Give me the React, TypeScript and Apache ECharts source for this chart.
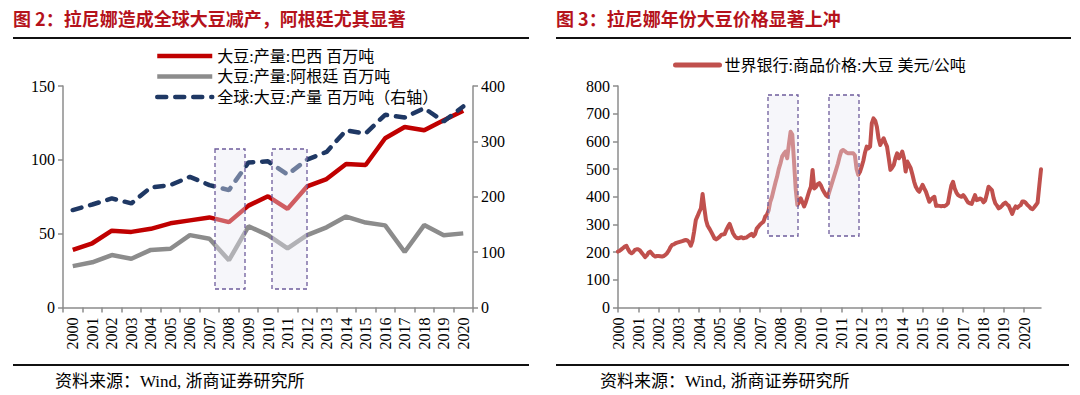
import React, { useEffect, useRef } from "react";
import * as echarts from "echarts";

// ---------- Left chart: production (million tonnes) ----------
const years = ["2000","2001","2002","2003","2004","2005","2006","2007","2008","2009","2010","2011","2012","2013","2014","2015","2016","2017","2018","2019","2020"];
const brazil = [39, 43.5, 52, 51.2, 53.3, 57, 59, 61, 57.8, 69, 75.3, 66.8, 82, 87, 97.2, 96.5, 114.6, 122.2, 120, 126.8, 133.3];
const argentina = [28, 30.6, 35.5, 33, 39, 39.8, 49, 46.5, 32, 55, 49, 40, 49, 54.3, 61.6, 57.5, 55.6, 37.6, 55.8, 49, 50.2];
const world = [176, 186, 197, 188, 217, 221, 236, 221, 212, 262, 264, 240, 267, 281, 320, 314, 348, 343, 360, 336, 363];

// ---------- Right chart: World Bank soybean price (USD/t), monthly ----------
const p2000 = [202, 205, 210, 215, 220, 223, 210, 200, 196, 200, 208, 210];
const p2001 = [210, 206, 198, 190, 182, 188, 198, 202, 195, 188, 184, 186];
const p2002 = [186, 185, 184, 186, 190, 196, 205, 218, 226, 228, 232, 234];
const p2003 = [236, 238, 240, 242, 244, 242, 236, 223, 240, 275, 316, 330];
const p2004 = [345, 358, 410, 360, 316, 295, 285, 274, 262, 250, 246, 250];
const p2005 = [255, 262, 264, 265, 280, 292, 302, 285, 268, 258, 252, 250];
const p2006 = [252, 254, 250, 252, 253, 258, 262, 266, 258, 265, 285, 292];
const p2007 = [300, 305, 310, 328, 335, 350, 382, 400, 425, 450, 472, 500];
const p2008 = [520, 545, 555, 563, 539, 590, 635, 625, 530, 430, 370, 380];
const p2009 = [394, 380, 365, 380, 400, 420, 436, 497, 430, 435, 445, 449];
const p2010 = [440, 425, 415, 405, 400, 420, 440, 460, 480, 500, 520, 545];
const p2011 = [565, 569, 565, 560, 557, 557, 557, 557, 550, 500, 479, 490];
const p2012 = [509, 530, 560, 581, 575, 581, 665, 683, 675, 653, 610, 587];
const p2013 = [600, 611, 595, 581, 540, 497, 505, 515, 540, 557, 539, 548];
const p2014 = [563, 540, 491, 527, 515, 503, 480, 455, 436, 425, 418, 430];
const p2015 = [443, 430, 418, 400, 382, 390, 396, 400, 367, 368, 367, 366];
const p2016 = [367, 366, 370, 376, 410, 440, 454, 430, 415, 406, 402, 400];
const p2017 = [406, 398, 388, 379, 376, 374, 390, 406, 388, 390, 394, 390];
const p2018 = [380, 386, 410, 436, 430, 424, 395, 376, 368, 358, 362, 368];
const p2019 = [375, 379, 372, 367, 352, 338, 355, 365, 360, 366, 370, 383];
const p2020 = [383, 378, 370, 365, 358, 355, 362, 370, 379, 440, 499];
const priceByYear = [p2000, p2001, p2002, p2003, p2004, p2005, p2006, p2007, p2008, p2009, p2010, p2011, p2012, p2013, p2014, p2015, p2016, p2017, p2018, p2019, p2020];

const leftTitle = "图 2：拉尼娜造成全球大豆减产，阿根廷尤其显著";
const rightTitle = "图 3：拉尼娜年份大豆价格显著上冲";
const sourceText = "资料来源：Wind, 浙商证券研究所";
const nameBrazil = "大豆:产量:巴西 百万吨";
const nameArg = "大豆:产量:阿根廷 百万吨";
const nameWorld = "全球:大豆:产量 百万吨（右轴）";
const namePrice = "世界银行:商品价格:大豆 美元/公吨";

const SERIF = '"Liberation Serif", "Noto Sans CJK SC", serif';
const CJK = '"Noto Sans CJK SC", sans-serif';

export default function App() {
  const ref = useRef<HTMLDivElement>(null);
  useEffect(() => {
    const chart = echarts.init(ref.current!, null, { renderer: "svg" });
    const months: string[] = [];
    const prices: number[] = [];
    priceByYear.forEach((arr, yi) => {
      arr.forEach((v, mi) => {
        months.push(years[yi] + "-" + String(mi + 1).padStart(2, "0"));
        prices.push(v);
      });
    });

    const axisLine = { show: true, lineStyle: { color: "#8c8c8c", width: 1.5 } };
    const axisTick = { show: true, length: 5, lineStyle: { color: "#8c8c8c", width: 1.5 } };
    const yLabel = { fontSize: 16, color: "#000", fontFamily: SERIF, margin: 8 };

    const boxStyle = {
      fill: "rgba(232,232,242,0.4)",
      stroke: "#6e5c9c",
      lineWidth: 1.3,
      lineDash: [4, 3],
    };
    const box = (x: number, y: number, w: number, h: number) => ({
      type: "rect",
      z: 100,
      shape: { x, y, width: w, height: h },
      style: boxStyle,
    });
    const rule = (x1: number, x2: number, y: number) => ({
      type: "line",
      z: 50,
      shape: { x1, y1: y, x2, y2: y },
      style: { stroke: "#111", lineWidth: 2 },
    });
    const text = (x: number, y: number, t: string, s: any) => ({
      type: "text",
      z: 50,
      x,
      y,
      style: { text: t, verticalAlign: "middle", ...s },
    });

    const option: any = {
      animation: false,
      backgroundColor: "#fff",
      grid: [
        { left: 63, right: 607, top: 86, bottom: 87.5 },
        { left: 618, right: 39, top: 86, bottom: 87.5 },
      ],
      legend: [
        {
          orient: "vertical",
          left: 155,
          top: 48,
          padding: 0,
          itemWidth: 55,
          itemHeight: 14,
          itemGap: 4.5,
          itemStyle: { opacity: 0 },
          lineStyle: { width: 4.5 },
          textStyle: { fontSize: 16, color: "#000", fontFamily: SERIF },
          data: [nameBrazil, nameArg, nameWorld],
        },
        {
          orient: "horizontal",
          left: 673,
          top: 57,
          padding: 0,
          itemWidth: 44,
          itemHeight: 14,
          itemStyle: { opacity: 0 },
          lineStyle: { width: 5, cap: "round" },
          textStyle: { fontSize: 16, color: "#000", fontFamily: SERIF },
          data: [namePrice],
        },
      ],
      xAxis: [
        {
          type: "category",
          gridIndex: 0,
          data: years,
          axisLine,
          axisTick,
          axisLabel: { rotate: 90, interval: 0, fontSize: 16, color: "#000", fontFamily: SERIF, margin: 10 },
        },
        {
          type: "category",
          gridIndex: 1,
          data: months,
          boundaryGap: false,
          axisLine,
          axisTick: { ...axisTick, interval: (i: number) => i % 12 === 0 },
          axisLabel: {
            rotate: 90,
            interval: (i: number) => i % 12 === 0,
            fontSize: 16,
            color: "#000",
            fontFamily: SERIF,
            margin: 10,
            formatter: (v: string) => v.slice(0, 4),
          },
        },
      ],
      yAxis: [
        { type: "value", gridIndex: 0, position: "left", min: 0, max: 150, interval: 50, axisLine, axisTick, axisLabel: yLabel, splitLine: { show: false } },
        { type: "value", gridIndex: 0, position: "right", min: 0, max: 400, interval: 100, axisLine, axisTick, axisLabel: yLabel, splitLine: { show: false } },
        { type: "value", gridIndex: 1, position: "left", min: 0, max: 800, interval: 100, axisLine, axisTick, axisLabel: yLabel, splitLine: { show: false } },
      ],
      series: [
        {
          name: nameBrazil, type: "line", xAxisIndex: 0, yAxisIndex: 0, data: brazil, symbol: "none",
          lineStyle: { color: "#c00000", width: 4.5 }, itemStyle: { color: "#c00000" },
        },
        {
          name: nameArg, type: "line", xAxisIndex: 0, yAxisIndex: 0, data: argentina, symbol: "none",
          lineStyle: { color: "#8c8c8c", width: 4.5 }, itemStyle: { color: "#8c8c8c" },
        },
        {
          name: nameWorld, type: "line", xAxisIndex: 0, yAxisIndex: 1, data: world, symbol: "none",
          lineStyle: { color: "#1f3864", width: 4.5, type: [9, 9], cap: "round" }, itemStyle: { color: "#1f3864" },
        },
        {
          name: namePrice, type: "line", xAxisIndex: 1, yAxisIndex: 2, data: prices, symbol: "none",
          lineStyle: { color: "#c0504d", width: 4, cap: "round", join: "round" }, itemStyle: { color: "#c0504d" },
        },
      ],
      graphic: [
        text(13, 18, leftTitle, { fontSize: 18, fontWeight: "bold", fill: "#b5121b", fontFamily: CJK }),
        text(556, 18, rightTitle, { fontSize: 18, fontWeight: "bold", fill: "#b5121b", fontFamily: CJK }),
        rule(13, 529, 38),
        rule(556, 1071, 38),
        rule(13, 529, 365),
        rule(556, 1069, 365),
        text(55, 381, sourceText, { fontSize: 17, fill: "#000", fontFamily: SERIF }),
        text(600, 381, sourceText, { fontSize: 17, fill: "#000", fontFamily: SERIF }),
        box(215, 149, 30, 140),
        box(272, 149, 35, 140),
        box(768, 95, 30, 141),
        box(829, 95, 30, 141),
      ],
    };
    chart.setOption(option);
    return () => chart.dispose();
  }, []);
  return (
    <div
      ref={ref}
      style={{ position: "fixed", left: 0, top: 0, width: 1080, height: 395, background: "#fff" }}
    />
  );
}
